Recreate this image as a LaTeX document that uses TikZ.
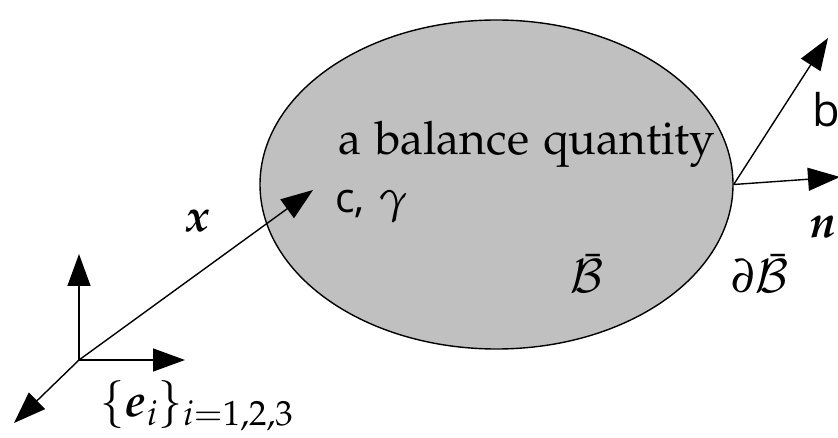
\documentclass[tikz,border=0pt]{standalone}
\usepackage[no-math]{fontspec}
\usepackage{mathpazo}
\usepackage{amsmath}
\usetikzlibrary{arrows.meta,shapes.geometric}
\newfontfamily\labsans{Open Sans}
\definecolor{bodygray}{HTML}{C0C0C0}
\tikzset{
  vec/.style={line width=1.4pt,-{Triangle[length=32pt,width=23pt]}},
  lab/.style={inner sep=0pt,anchor=base},
  body/.style={ellipse,draw,line width=1.4pt,fill=bodygray,inner sep=0pt,
    minimum width=473pt,minimum height=329pt}
}
\begin{document}
\begin{tikzpicture}[x=1pt,y=-1pt,font=\fontsize{46}{54}\selectfont]
\useasboundingbox (0,0) rectangle (838,438);
\node[body] (B) at (496.5,184.5) {};
\coordinate (O) at (79,360);
\coordinate (e2) at (79,254);
\coordinate (e1) at (185,360);
\coordinate (e3) at (14,423);
\coordinate (P) at (313,190);
\coordinate (bt) at (828,38);
\coordinate (nt) at (840,177);
\draw[vec] (O) -- (e2);
\draw[vec] (O) -- (e1);
\draw[vec] (O) -- (e3);
\draw[vec] (O) -- (P);
\draw[vec] (B.east) -- (bt);
\draw[vec] (B.east) -- (nt);
\node[lab,anchor=base west] (q) at (338,155) {$\mathrm{a\ balance\ quantity}$};
\node[lab,anchor=base west] (c) at (335,213) {{\labsans\fontsize{41}{46}\selectfont c,} $\gamma$};
\node[lab] (xl) at (198,232) {$\boldsymbol{x}$};
\node[lab] (Bb) at (587,293) {$\bar{\mathcal{B}}$};
\node[lab] (dB) at (760,293) {$\partial\bar{\mathcal{B}}$};
\node[lab,anchor=base west] (bl) at (812,127) {\labsans\fontsize{45}{50}\selectfont b};
\node[lab,anchor=base west] (nl) at (810,238) {$\boldsymbol{n}$};
\node[lab,anchor=base west] (el) at (100,416) {$\{\boldsymbol{e}_i\}_{i=1,2,3}$};
\end{tikzpicture}
\end{document}
